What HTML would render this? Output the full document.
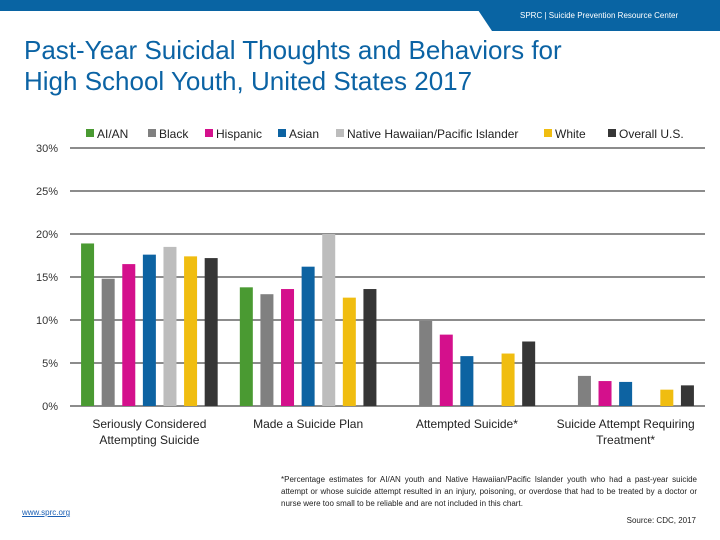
<!DOCTYPE html>
<html><head><meta charset="utf-8"><style>
body{margin:0;width:720px;height:540px;overflow:hidden;background:#fff;font-family:"Liberation Sans",sans-serif;position:relative}
.t{position:absolute}
</style></head><body>
<svg class="t" style="left:0;top:0" width="720" height="34">
<rect x="0" y="0" width="720" height="11" fill="#0964a3"/>
<polygon points="478,10 720,10 720,31 492,31" fill="#0964a3"/>
<text x="520" y="18" font-size="8" fill="#fff" font-family="Liberation Sans, sans-serif">SPRC  |  Suicide Prevention Resource Center</text>
</svg>
<div class="t" style="left:24px;top:35px;font-size:26px;line-height:31px;color:#0b63a4">Past-Year Suicidal Thoughts and Behaviors for<br>High School Youth, United States 2017</div>
<svg id="chart" class="t" style="left:0;top:0" width="720" height="540"></svg>
<div class="t" style="left:281px;top:474px;width:416px;font-size:8px;line-height:12px;color:#222;text-align:justify">*Percentage estimates for AI/AN youth and Native Hawaiian/Pacific Islander youth who had a past-year suicide attempt or whose suicide attempt resulted in an injury, poisoning, or overdose that had to be treated by a doctor or nurse were too small to be reliable and are not included in this chart.</div>
<div class="t" style="right:24px;top:516px;font-size:8px;color:#222">Source: CDC, 2017</div>
<div class="t" style="left:22px;top:508px;font-size:8px;color:#1a5fb4;text-decoration:underline">www.sprc.org</div>
<script>
const categories=["Seriously Considered|Attempting Suicide","Made a Suicide Plan","Attempted Suicide*","Suicide Attempt Requiring|Treatment*"];
const seriesNames=["AI/AN","Black","Hispanic","Asian","Native Hawaiian/Pacific Islander","White","Overall U.S."];
const colors=["#4a9a32","#808080","#d4108c","#0d63a2","#bdbdbd","#f0bd10","#363636"];
const aian=[18.9,13.8,null,null];
const black=[14.8,13.0,9.9,3.5];
const hispanic=[16.5,13.6,8.3,2.9];
const asian=[17.6,16.2,5.8,2.8];
const nhpi=[18.5,20.0,null,null];
const white=[17.4,12.6,6.1,1.9];
const overall=[17.2,13.6,7.5,2.4];
const ticks=[0,5,10,15,20,25,30];
const series=[aian,black,hispanic,asian,nhpi,white,overall];
const svg=document.getElementById('chart');
const NS='http://www.w3.org/2000/svg';
const x0=70,x1=705,y0=406,yTop=148,vmax=30;
const y=v=>y0-(v/vmax)*(y0-yTop);
const gw=(x1-x0)/categories.length;
const bx=(g,s)=>x0+gw*g+gw/2+(s-3)*20.6-6.5;
function mk(t,a,txt){const e=document.createElementNS(NS,t);for(const k in a)e.setAttribute(k,a[k]);if(txt!=null)e.textContent=txt;svg.appendChild(e);return e;}
ticks.forEach(t=>{
 const l=mk('line',{x1:x0,x2:x1,y1:y(t),y2:y(t),stroke:'#8c8c8c','stroke-width':2});
 
 
 const tx=mk('text',{x:58,y:y(t)+4,'font-size':11,'text-anchor':'end',fill:'#333'},t+'%');
 
 
});
series.forEach((arr,s)=>arr.forEach((v,g)=>{
 if(v==null)return;
 const r=mk('rect',{x:bx(g,s),y:y(v),width:13,height:y0-y(v),fill:colors[s]});
 
 
}));
categories.forEach((c,g)=>{
 c.split('|').forEach((ln,i)=>{
  const t=mk('text',{x:x0+gw*g+gw/2,y:428+i*16,'font-size':12,'text-anchor':'middle',fill:'#222'},ln);
  
  
 });
});
const lx=[86,148,205,278,336,544,608];
seriesNames.forEach((n,s)=>{
 const r=mk('rect',{x:lx[s],y:129,width:8,height:8,fill:colors[s]});
 
 
 const t=mk('text',{x:lx[s]+11,y:138,'font-size':12,fill:'#222'},n);
 
 
});
</script>
</body></html>
